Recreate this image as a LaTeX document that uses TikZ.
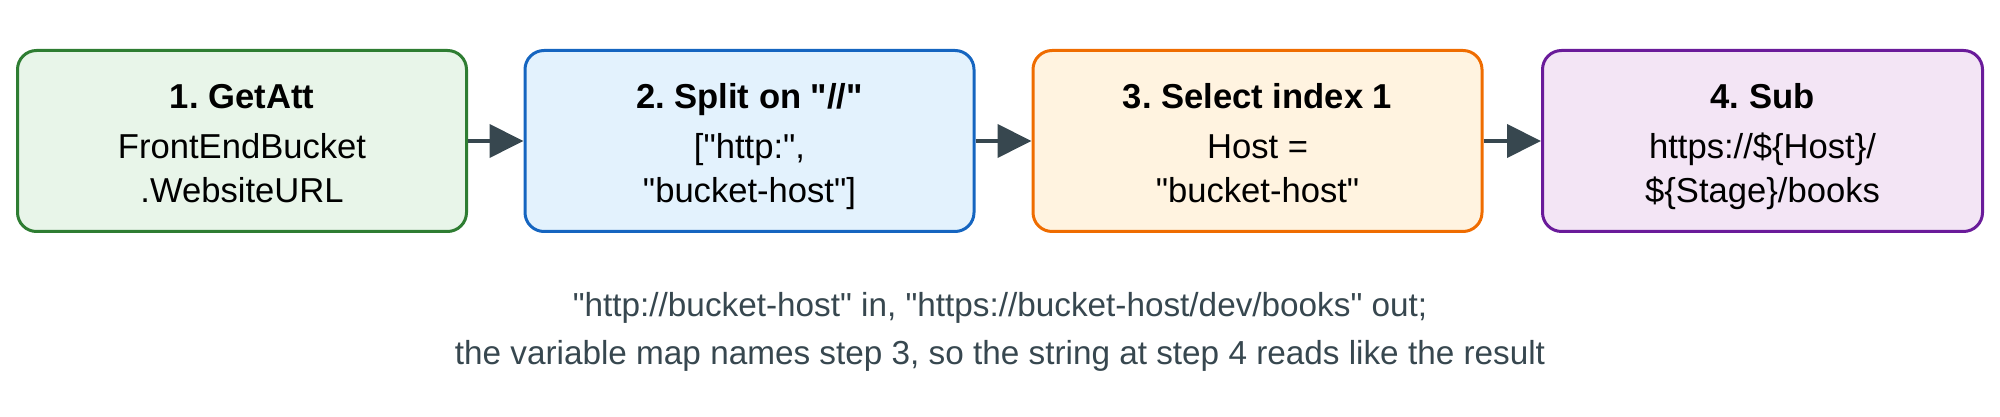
\documentclass[tikz,border=0pt]{standalone}
\usepackage{fontspec}
\setmainfont{Liberation Sans}
\newfontfamily\plainsans{Liberation Sans}
\usetikzlibrary{arrows.meta}
\frenchspacing
\definecolor{gS}{HTML}{2E7D32}\definecolor{gF}{HTML}{E8F5E9}
\definecolor{bS}{HTML}{1565C0}\definecolor{bF}{HTML}{E3F2FD}
\definecolor{oS}{HTML}{EF6C00}\definecolor{oF}{HTML}{FFF3E0}
\definecolor{pS}{HTML}{6A1B9A}\definecolor{pF}{HTML}{F3E5F5}
\definecolor{arr}{HTML}{37474F}
\definecolor{capc}{HTML}{37474F}
\begin{document}
\begin{tikzpicture}[x=1pt,y=1pt,
  box/.style={draw, line width=3pt, rounded corners=19pt, minimum width=449pt, minimum height=181pt, inner sep=0pt},
  ttl/.style={anchor=base, font=\plainsans\fontsize{34.6}{40}\selectfont\bfseries\frenchspacing, text=black, inner sep=0pt},
  txt/.style={anchor=base, font=\plainsans\fontsize{34.6}{40}\selectfont\frenchspacing, text=black, inner sep=0pt},
  captxt/.style={anchor=base, font=\plainsans\fontsize{33.3}{40}\selectfont\frenchspacing, text=capc, inner sep=0pt},
  flow/.style={draw=arr, line width=4pt, -{Triangle[length=34pt,width=33pt]}}]
\useasboundingbox (0,0) rectangle (2000,417);
\node[box, draw=gS, fill=gF] (b1) at (242,276) {};
\node[box, draw=bS, fill=bF] (b2) at (749.5,276) {};
\node[box, draw=oS, fill=oF] (b3) at (1257.5,276) {};
\node[box, draw=pS, fill=pF, minimum width=440pt] (b4) at (1762.5,276) {};
\node[ttl] (t1) at (242,308) {1. GetAtt};
\node[txt] (t1a) at (242,258) {FrontEndBucket};
\node[txt] (t1b) at (242,214) {.WebsiteURL};
\node[ttl] (t2) at (749.5,308) {2. Split on "//"};
\node[txt] (t2a) at (749.5,258) {["http:",};
\node[txt] (t2b) at (749.5,214) {"bucket-host"]};
\node[ttl] (t3) at (1257.5,308) {3. Select index 1};
\node[txt] (t3a) at (1257.5,258) {Host =};
\node[txt] (t3b) at (1257.5,214) {"bucket-host"};
\node[ttl] (t4) at (1762.5,308) {4. Sub};
\node[txt] (t4a) at (1762.5,258) {https://\$\{Host\}/};
\node[txt] (t4b) at (1762.5,214) {\$\{Stage\}/books};
\draw[flow] (b1.east) -- (b2.west);
\draw[flow] (b2.east) -- (b3.west);
\draw[flow] (b3.east) -- (b4.west);
\node[captxt] (c1) at (1000,100) {"http://bucket-host" in, "https://bucket-host/dev/books" out;};
\node[captxt] (c2) at (1000,52) {the variable map names step 3, so the string at step 4 reads like the result};
\end{tikzpicture}
\end{document}
